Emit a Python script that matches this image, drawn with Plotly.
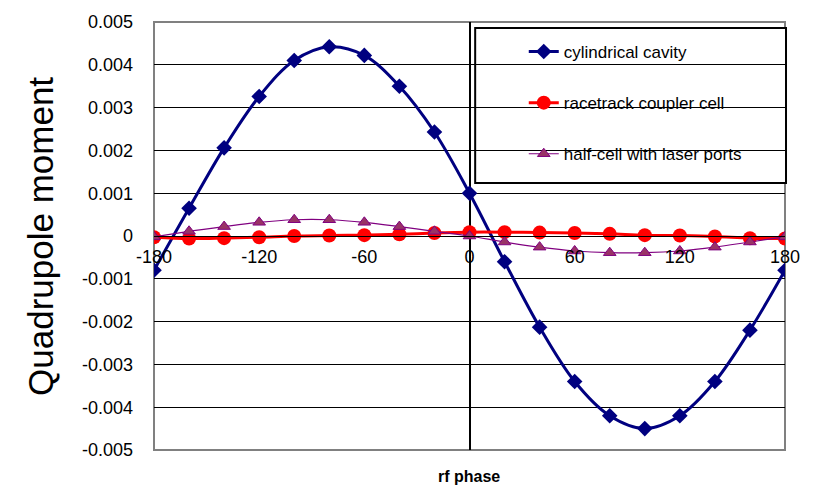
import plotly.graph_objects as go

phase = [-180, -160, -140, -120, -100, -80, -60, -40, -20, 0, 20, 40, 60, 80, 100, 120, 140, 160, 180]

cylindrical = [-0.0008, 0.00065, 0.00206, 0.00326, 0.0041, 0.00442, 0.00422, 0.0035, 0.00243, 0.001,
               -0.0006, -0.00213, -0.0034, -0.0042, -0.0045, -0.0042, -0.0034, -0.0022, -0.0008]
racetrack = [-0.00003, -0.00006, -0.00005, -0.00003, 0.0, 0.00001, 0.00002, 0.00004, 0.00007, 0.00009,
             0.00009, 0.00008, 0.00007, 0.00005, 0.00002, 0.00001, -0.00001, -0.00005, -0.00006]
halfcell = [-0.00002, 0.00011, 0.00022, 0.00032, 0.00038, 0.00038, 0.00032, 0.00022, 0.00011, 0.0,
            -0.00014, -0.00026, -0.00035, -0.00039, -0.00039, -0.00035, -0.00026, -0.00014, -0.00002]

series_names = ["cylindrical cavity", "racetrack coupler cell", "half-cell with laser ports"]

x_tickvals = [-180, -120, -60, 0, 60, 120, 180]
x_ticktext = ["-180", "-120", "-60", "0", "60", "120", "180"]
y_tickvals = [0.005, 0.004, 0.003, 0.002, 0.001, 0, -0.001, -0.002, -0.003, -0.004, -0.005]
y_ticktext = ["0.005", "0.004", "0.003", "0.002", "0.001", "0", "-0.001", "-0.002", "-0.003", "-0.004", "-0.005"]

FONT = "Liberation Sans, Arial, sans-serif"

fig = go.Figure()
fig.add_trace(go.Scatter(
    x=phase, y=cylindrical, name=series_names[0], mode="lines+markers",
    line=dict(color="#000080", width=3, shape="spline"),
    marker=dict(symbol="diamond", size=12, color="#000080"),
    legendgroup="a"))
fig.add_trace(go.Scatter(
    x=phase, y=racetrack, name=series_names[1], mode="lines+markers",
    line=dict(color="#FF0000", width=3, shape="spline"),
    marker=dict(symbol="circle", size=14, color="#FF0000"),
    legendgroup="b"))
fig.add_trace(go.Scatter(
    x=phase, y=halfcell, name=series_names[2], mode="lines+markers",
    line=dict(color="#800080", width=1.2, shape="spline"),
    marker=dict(symbol="triangle-up", size=11, color="#993366", line=dict(color="#800080", width=1)),
    legendgroup="c"))

fig.update_layout(
    width=816, height=487,
    margin=dict(l=154, r=31, t=17, b=37),
    paper_bgcolor="white", plot_bgcolor="white",
    font=dict(family=FONT, color="black"),
    showlegend=True,
    legend=dict(x=0.586, y=0.972, xanchor="left", yanchor="top",
                bgcolor="rgba(0,0,0,0)", borderwidth=0,
                font=dict(family=FONT, size=17, color="black"),
                tracegroupgap=26, itemwidth=30),
    xaxis=dict(range=[-180, 180], tickvals=x_tickvals, ticktext=x_ticktext,
               showgrid=False, zeroline=True, zerolinecolor="black", zerolinewidth=1.5,
               anchor="free", position=0.5, showline=True, linecolor="black", linewidth=1,
               ticks="", ticklabelstandoff=4,
               tickfont=dict(family=FONT, size=18, color="black")),
    yaxis=dict(range=[-0.005, 0.005], tickvals=y_tickvals, ticktext=y_ticktext,
               showgrid=True, gridcolor="black", gridwidth=1,
               zeroline=True, zerolinecolor="black", zerolinewidth=1,
               showline=False, ticks="", ticklabelstandoff=20,
               tickfont=dict(family=FONT, size=18, color="black")),
    shapes=[
        dict(type="rect", xref="paper", yref="paper", x0=0, x1=1, y0=0, y1=1,
             line=dict(color="#808080", width=2), fillcolor="rgba(0,0,0,0)", layer="between"),
        dict(type="rect", xref="paper", yref="paper", x0=0.509, x1=1.0016, y0=0.6236, y1=0.986,
             line=dict(color="black", width=2), fillcolor="white", layer="between"),
    ],
    annotations=[
        dict(text="Quadrupole moment", xref="paper", yref="paper", x=-0.1807, y=0.5,
             xanchor="center", yanchor="middle", textangle=-90, showarrow=False,
             font=dict(family=FONT, size=35, color="black")),
        dict(text="<b>rf phase</b>", xref="paper", yref="paper", x=0.499, y=-0.0624,
             xanchor="center", yanchor="middle", showarrow=False,
             font=dict(family=FONT, size=16, color="black")),
    ],
)

fig.write_html("out.html")
